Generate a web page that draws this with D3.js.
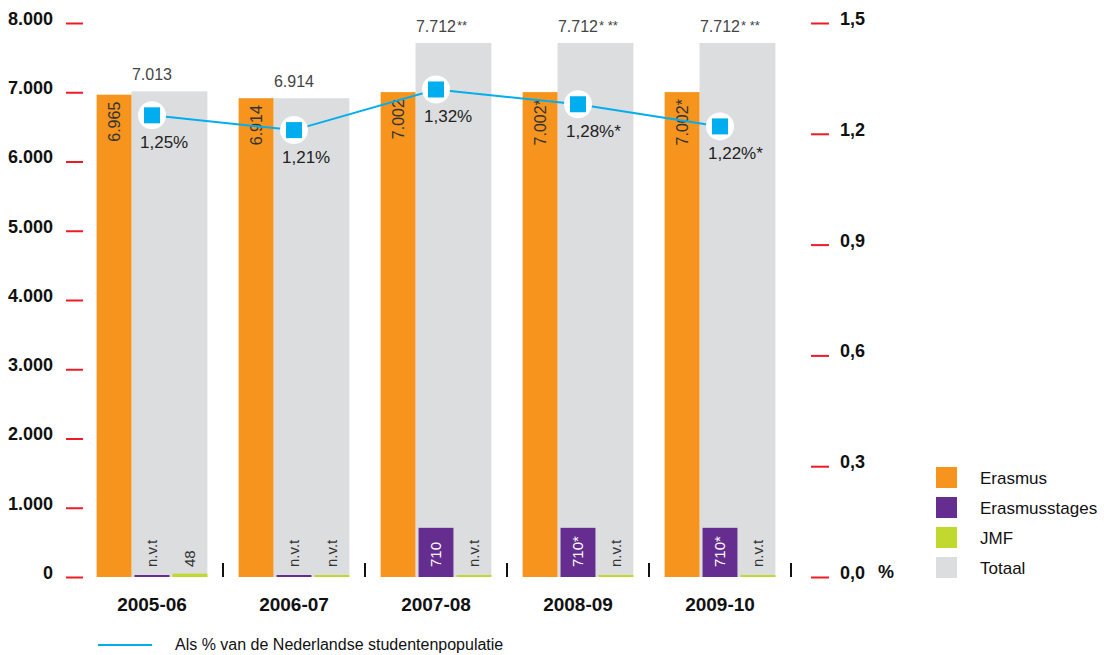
<!DOCTYPE html>
<html>
<head>
<meta charset="utf-8">
<script src="https://cdn.jsdelivr.net/npm/d3@7"></script>
<style>
  body { margin: 0; background: #fff; }
  svg { font-family: "Liberation Sans", Arial, sans-serif; }
</style>
</head>
<body>
<svg id="chart"></svg>
<script>
// data
const categories = ["2005-06", "2006-07", "2007-08", "2008-09", "2009-10"];
const erasmus = [6965, 6914, 7002, 7002, 7002];
const erasmusLabels = ["6.965", "6.914", "7.002", "7.002*", "7.002*"];
const stages = [null, null, 710, 710, 710];
const stagesLabels = ["n.v.t", "n.v.t", "710", "710*", "710*"];
const jmf = [48, null, null, null, null];
const jmfLabels = ["48", "n.v.t", "n.v.t", "n.v.t", "n.v.t"];
const totaal = [7013, 6914, 7712, 7712, 7712];
const totaalSuffix = ["", "", "**", "* **", "* **"];
const pct = [1.25, 1.21, 1.32, 1.28, 1.22];
const pctSuffix = ["", "", "", "*", "*"];
const leftTicks = [0, 1000, 2000, 3000, 4000, 5000, 6000, 7000, 8000];
const rightTicks = [0, 0.3, 0.6, 0.9, 1.2, 1.5];
const legendItems = ["Erasmus", "Erasmusstages", "JMF", "Totaal"];
const lineLegend = "Als % van de Nederlandse studentenpopulatie";

const colors = {
  Erasmus: "#f7941d",
  Erasmusstages: "#662d91",
  JMF: "#c1d82f",
  Totaal: "#dcddde"
};
const blue = "#00aeef";
const red = "#ed1c24";

const width = 1104, height = 655;
const svg = d3.select("#chart").attr("width", width).attr("height", height);

const nl = d3.formatLocale({ decimal: ",", thousands: ".", grouping: [3], currency: ["€", ""] });
const fmtInt = nl.format(",d");
const fmtAxis = nl.format(".1f");
const fmtPct = nl.format(".2f");

const x = d3.scaleBand().domain(categories).range([81, 791]);
const bw = x.bandwidth();
const inner = d3.scaleBand()
  .domain(["Erasmus", "Erasmusstages", "JMF"])
  .range([bw * 0.11, bw * 0.89])
  .paddingInner(0.08);

const y = d3.scaleLinear().domain([0, 8000]).range([577, 23]);
const y2 = d3.scaleLinear().domain([0, 1.5]).range([577, 23]);

// left axis
const gl = svg.append("g")
  .attr("transform", "translate(83,0)")
  .call(d3.axisLeft(y).tickValues(leftTicks).tickFormat(fmtInt).tickSize(17).tickPadding(13));
gl.select(".domain").remove();
gl.selectAll(".tick line").attr("stroke", red).attr("stroke-width", 2);
gl.selectAll(".tick text").attr("fill", "#111").attr("font-size", 18).attr("font-weight", "bold").attr("dy", "0.08em");

// right axis
const gr = svg.append("g")
  .attr("transform", "translate(811,0)")
  .call(d3.axisRight(y2).tickValues(rightTicks).tickFormat(fmtAxis).tickSize(18).tickPadding(11));
gr.select(".domain").remove();
gr.selectAll(".tick line").attr("stroke", red).attr("stroke-width", 2);
gr.selectAll(".tick text").attr("fill", "#111").attr("font-size", 18).attr("font-weight", "bold").attr("dy", "0.08em");
svg.append("text").attr("x", 878).attr("y", y2(0) + 1)
  .attr("font-size", 18).attr("font-weight", "bold").attr("fill", "#111").text("%");

const groups = svg.append("g").selectAll("g")
  .data(categories)
  .join("g")
  .attr("transform", d => `translate(${x(d)},0)`);

const stub = 2; // n.v.t shown as a thin line
const h = v => v == null ? stub : y(0) - y(v);

// totaal (grey) behind, from orange end to group end
groups.append("rect")
  .attr("x", inner("Erasmus") + inner.bandwidth())
  .attr("width", bw * 0.89 - inner("Erasmus") - inner.bandwidth())
  .attr("y", (d, i) => y(totaal[i]))
  .attr("height", (d, i) => y(0) - y(totaal[i]))
  .attr("fill", colors.Totaal);

groups.append("rect")
  .attr("x", inner("Erasmus")).attr("width", inner.bandwidth())
  .attr("y", (d, i) => y(0) - h(erasmus[i])).attr("height", (d, i) => h(erasmus[i]))
  .attr("fill", colors.Erasmus);

groups.append("rect")
  .attr("x", inner("Erasmusstages")).attr("width", inner.bandwidth())
  .attr("y", (d, i) => y(0) - h(stages[i])).attr("height", (d, i) => h(stages[i]))
  .attr("fill", colors.Erasmusstages);

groups.append("rect")
  .attr("x", inner("JMF")).attr("width", inner.bandwidth())
  .attr("y", (d, i) => y(0) - h(jmf[i])).attr("height", (d, i) => h(jmf[i]))
  .attr("fill", colors.JMF);

// rotated labels
const cx = k => inner(k) + inner.bandwidth() / 2;
groups.append("text")
  .attr("transform", (d, i) => `translate(${cx("Erasmus")},${y(erasmus[i]) + 7}) rotate(-90)`)
  .attr("text-anchor", "end").attr("dy", "0.35em")
  .attr("font-size", 16).attr("fill", "#333")
  .text((d, i) => erasmusLabels[i]);

groups.append("text")
  .attr("transform", `translate(${cx("Erasmusstages")},${y(0) - 10}) rotate(-90)`)
  .attr("dy", "0.35em").attr("font-size", 15)
  .attr("fill", (d, i) => stages[i] == null ? "#333" : "#fff")
  .text((d, i) => stagesLabels[i]);

groups.append("text")
  .attr("transform", `translate(${cx("JMF")},${y(0) - 10}) rotate(-90)`)
  .attr("dy", "0.35em").attr("font-size", 15).attr("fill", "#333")
  .text((d, i) => jmfLabels[i]);

// totaal labels above grey bars
groups.each(function (d, i) {
  const g = d3.select(this);
  const t = g.append("text")
    .attr("x", bw / 2).attr("y", y(totaal[i]) - 11)
    .attr("text-anchor", "middle").attr("font-size", 16).attr("fill", "#444")
    .text(fmtInt(totaal[i]));
  if (totaalSuffix[i]) {
    const w = t.node().getComputedTextLength();
    g.append("text")
      .attr("x", bw / 2 + w / 2 + 1).attr("y", y(totaal[i]) - 13)
      .attr("font-size", 13).attr("fill", "#444")
      .text(totaalSuffix[i]);
  }
});

// category labels
groups.append("text")
  .attr("x", bw / 2).attr("y", 611)
  .attr("text-anchor", "middle").attr("font-size", 19).attr("font-weight", "bold").attr("fill", "#111")
  .text(d => d);

// separators between groups
svg.append("g").selectAll("line")
  .data(categories)
  .join("line")
  .attr("x1", d => x(d) + bw).attr("x2", d => x(d) + bw)
  .attr("y1", y(0) - 14).attr("y2", y(0))
  .attr("stroke", "#111").attr("stroke-width", 2);

// percentage line
const px = (d, i) => x(categories[i]) + bw / 2;
svg.append("path")
  .datum(pct)
  .attr("fill", "none").attr("stroke", blue).attr("stroke-width", 2)
  .attr("d", d3.line().x(px).y(d => y2(d)));

const pts = svg.append("g").selectAll("g")
  .data(pct)
  .join("g")
  .attr("transform", (d, i) => `translate(${px(d, i)},${y2(d)})`);
pts.append("circle").attr("r", 14).attr("fill", "#fff");
pts.append("rect").attr("x", -8).attr("y", -8).attr("width", 16).attr("height", 16).attr("fill", blue);
pts.append("text")
  .attr("x", -12).attr("y", 33)
  .attr("font-size", 17).attr("fill", "#222")
  .text((d, i) => fmtPct(d) + "%" + pctSuffix[i]);

// legend
const lg = svg.append("g").attr("transform", "translate(936,467)");
const li = lg.selectAll("g").data(legendItems).join("g")
  .attr("transform", (d, i) => `translate(0,${i * 30})`);
li.append("rect").attr("width", 21).attr("height", 21).attr("fill", d => colors[d]);
li.append("text").attr("x", 44).attr("y", 17).attr("font-size", 17).attr("fill", "#111").text(d => d);

// line legend
svg.append("line").attr("x1", 98).attr("x2", 152).attr("y1", 645).attr("y2", 645)
  .attr("stroke", blue).attr("stroke-width", 2);
svg.append("text").attr("x", 175).attr("y", 650).attr("font-size", 16).attr("fill", "#111").text(lineLegend);
</script>
</body>
</html>
